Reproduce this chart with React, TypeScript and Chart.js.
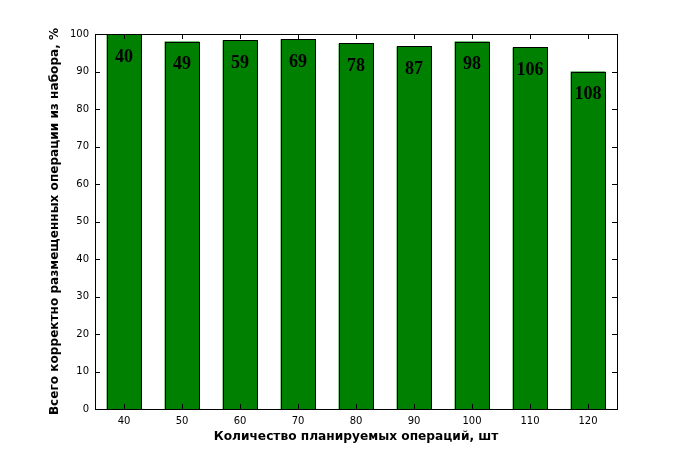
import { useEffect, useRef } from "react";
import { Chart, registerables } from "chart.js";

Chart.register(...registerables);

const categories = ["40", "50", "60", "70", "80", "90", "100", "110", "120"];
const percentPlaced = [100, 98.0, 98.3, 98.6, 97.5, 96.7, 98.0, 96.4, 90.0];
const barLabels = ["40", "49", "59", "69", "78", "87", "98", "106", "108"];
const yTicks = [0, 10, 20, 30, 40, 50, 60, 70, 80, 90, 100];

// bar outlines, frame + inward ticks on all four sides, like the matplotlib original
const framePlugin = {
  id: "frame",
  afterDatasetsDraw(chart: any) {
    const { ctx, chartArea, scales } = chart;
    const { left, right, top, bottom } = chartArea;
    const len = 5;
    const meta = chart.getDatasetMeta(0);
    ctx.save();
    ctx.strokeStyle = "#000";
    ctx.lineWidth = 1;

    meta.data.forEach((bar: any) => {
      const x0 = Math.round(bar.x - bar.width / 2) + 0.5;
      const x1 = Math.round(bar.x + bar.width / 2) + 0.5;
      const y0 = Math.round(bar.y) + 0.5;
      const y1 = Math.round(bar.base) + 0.5;
      ctx.strokeRect(x0, y0, x1 - x0, y1 - y0);
    });

    ctx.beginPath();
    scales.x.ticks.forEach((_t: any, i: number) => {
      const px = Math.round(scales.x.getPixelForTick(i)) + 0.5;
      ctx.moveTo(px, bottom);
      ctx.lineTo(px, bottom - len);
      ctx.moveTo(px, top);
      ctx.lineTo(px, top + len);
    });
    scales.y.ticks.forEach((_t: any, i: number) => {
      const py = Math.round(scales.y.getPixelForTick(i)) + 0.5;
      ctx.moveTo(left, py);
      ctx.lineTo(left + len, py);
      ctx.moveTo(right, py);
      ctx.lineTo(right - len, py);
    });
    ctx.stroke();
    ctx.strokeRect(
      Math.round(left) + 0.5,
      Math.round(top) + 0.5,
      Math.round(right - left),
      Math.round(bottom - top)
    );

    // value labels inside the bars
    ctx.fillStyle = "#000";
    ctx.font = "bold 18px 'Liberation Serif'";
    ctx.textAlign = "center";
    ctx.textBaseline = "middle";
    meta.data.forEach((bar: any, i: number) => {
      ctx.fillText(barLabels[i], bar.x, bar.y + 23);
    });
    ctx.restore();
  },
};

const App = () => {
  const chartRef = useRef<HTMLCanvasElement>(null);
  const chartInstanceRef = useRef<Chart>();

  useEffect(() => {
    if (!chartRef.current) return;
    document.body.style.margin = "0";
    const ctx = chartRef.current.getContext("2d");

    Chart.defaults.color = "#000";

    chartInstanceRef.current = new Chart(ctx!, {
      type: "bar",
      data: {
        labels: categories,
        datasets: [
          {
            data: percentPlaced,
            backgroundColor: "#008000",
            borderWidth: 0,
            barPercentage: 0.6,
            categoryPercentage: 1,
          },
        ],
      },
      options: {
        animation: false,
        responsive: true,
        maintainAspectRatio: false,
        layout: { padding: { top: 34, right: 58, left: 0, bottom: 0 } },
        plugins: { legend: { display: false }, tooltip: { enabled: false } },
        scales: {
          x: {
            grid: { display: false, drawTicks: false },
            border: { display: false },
            ticks: {
              padding: 6,
              font: { family: "'DejaVu Sans'", size: 10 },
              color: "#000",
            },
            title: {
              display: true,
              text: "Количество планируемых операций, шт",
              font: { family: "'DejaVu Sans'", size: 12.2, weight: "bold" },
              color: "#000",
              padding: { top: 0, bottom: 15 },
            },
            afterFit: (scale: any) => {
              scale.height = 50;
            },
          },
          y: {
            min: 0,
            max: 100,
            grid: { display: false, drawTicks: false },
            border: { display: false },
            afterBuildTicks: (scale: any) => {
              scale.ticks = yTicks.map((v) => ({ value: v }));
            },
            ticks: {
              padding: 6,
              font: { family: "'DejaVu Sans'", size: 10 },
              color: "#000",
            },
            title: {
              display: true,
              text: "Всего корректно размещенных операции из набора, %",
              font: { family: "'DejaVu Sans'", size: 12.1, weight: "bold" },
              color: "#000",
              padding: { top: 48, bottom: 0 },
            },
            afterFit: (scale: any) => {
              scale.width = 95;
            },
          },
        },
      },
      plugins: [framePlugin],
    });

    return () => {
      if (chartInstanceRef.current) {
        chartInstanceRef.current.destroy();
      }
    };
  }, []);

  return (
    <div style={{ width: 675, height: 459, position: "relative", background: "#fff" }}>
      <canvas ref={chartRef}></canvas>
    </div>
  );
};

export default App;
